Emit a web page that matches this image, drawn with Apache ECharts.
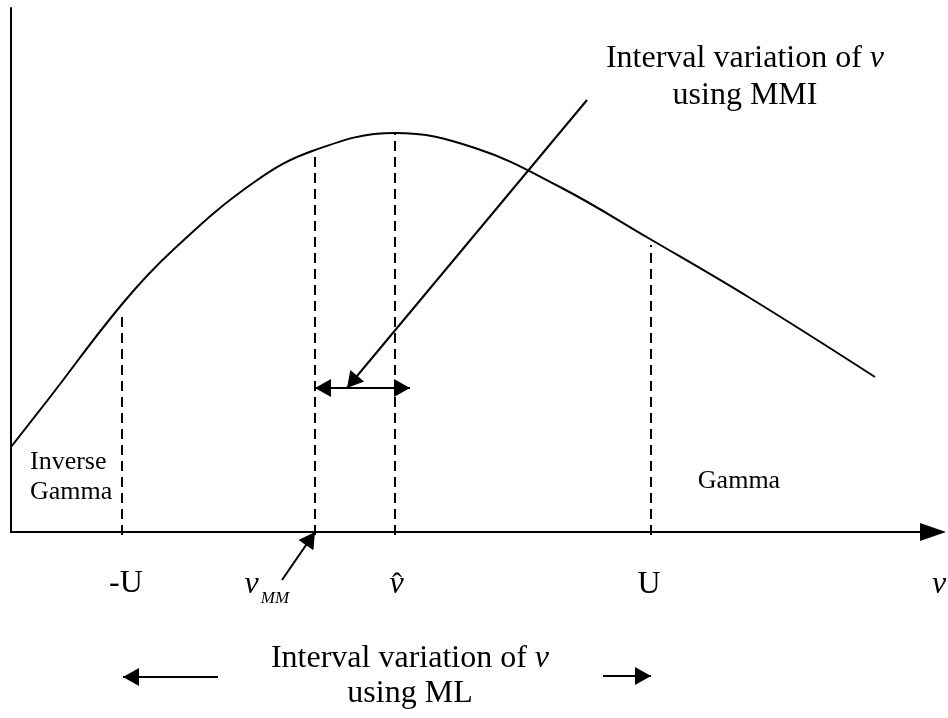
<!DOCTYPE html>
<html>
<head>
<meta charset="utf-8">
<script src="https://cdn.jsdelivr.net/npm/echarts@6.0.0/dist/echarts.min.js"></script>
<style>
    html, body { margin: 0; padding: 0; background: #fff; }
    #chart { width: 948px; height: 718px; }
</style>
</head>
<body>
<div id="chart"></div>
<script>
// diagram units: origin at the corner of the two axes, x to the right, y up
const curveX = [0, 36, 112, 162, 242, 304, 384, 464, 549, 639, 739, 864];
const curveY = [85, 131, 229, 282, 349, 382, 399, 384, 345, 293, 234, 155];

// dashed drop lines at -U, v_MM, v-hat and U
const dropX = [111, 304, 384, 640];
const dropTop = [217, 382, 399, 287];

// arrows: [x1, y1, x2, y2, head at start, head at end]
const arrows = [
    [576, 432, 336, 144, 0, 1],
    [304, 144, 399, 144, 1, 1],
    [271, -48, 304, 0, 0, 1],
    [207, -145, 112, -145, 0, 1],
    [592, -144, 640, -144, 0, 1],
];

// texts
const labelText = [
    "Interval variation of {i|ν}\nusing MMI",
    "Inverse\nGamma",
    "Gamma",
    "-U",
    "{i|ν}",
    "{s|MM}",
    "{i|ν}",
    "ˆ",
    "U",
    "{i|ν}",
    "Interval variation of {i|ν}\nusing ML",
];
const labelX = [734, 19, 728, 115, 240.5, 264, 385.5, 386, 638, 928, 399];
const labelY = [454.5, 55, 51, -52, -53, -67, -53, -53, -53, -53, -144.5];
const labelSize = [32, 26, 26, 32, 32, 17, 32, 30, 32, 32, 32];
const labelLine = [37, 30, 30, 32, 32, 17, 32, 30, 32, 32, 35];
const labelAlign = ["center", "left", "center", "center", "center", "center", "center", "center", "center", "center", "center"];

const serif = "'Liberation Serif', 'DejaVu Serif', serif";

const chart = echarts.init(document.getElementById("chart"), null, { renderer: "canvas" });

function headPoints(tip, from, len, width) {
    let dx = tip[0] - from[0];
    let dy = tip[1] - from[1];
    let d = Math.sqrt(dx * dx + dy * dy) || 1;
    dx /= d;
    dy /= d;
    let bx = tip[0] - dx * len;
    let by = tip[1] - dy * len;
    return [
        [tip[0], tip[1]],
        [bx - dy * width / 2, by + dx * width / 2],
        [bx + dy * width / 2, by - dx * width / 2],
    ];
}

const option = {
    animation: false,
    grid: { left: 11, right: 15, top: 8, bottom: 186 },
    xAxis: {
        type: "value",
        min: 0,
        max: 922,
        axisLine: {
            show: true,
            onZero: false,
            symbol: ["none", "triangle"],
            symbolSize: [18, 26],
            lineStyle: { color: "#000", width: 2 },
        },
        axisTick: { show: false },
        axisLabel: { show: false },
        splitLine: { show: false },
    },
    yAxis: {
        type: "value",
        min: 0,
        max: 524,
        axisLine: { show: true, onZero: false, lineStyle: { color: "#000", width: 2 } },
        axisTick: { show: false },
        axisLabel: { show: false },
        splitLine: { show: false },
    },
    series: [
        {
            type: "line",
            data: curveX.map((x, i) => [x, curveY[i]]),
            smooth: 0.4,
            symbol: "none",
            lineStyle: { color: "#000", width: 2 },
        },
        {
            type: "custom",
            data: dropX.map((x, i) => [x, dropTop[i]]),
            renderItem: (params, api) => {
                let p0 = api.coord([api.value(0), 0]);
                let p1 = api.coord([api.value(0), api.value(1)]);
                return {
                    type: "line",
                    shape: { x1: p0[0], y1: p0[1] + 3, x2: p1[0], y2: p1[1] },
                    style: { stroke: "#000", lineWidth: 2, lineDash: [10, 6] },
                };
            },
        },
        {
            type: "custom",
            data: arrows,
            renderItem: (params, api) => {
                let a = api.coord([api.value(0), api.value(1)]);
                let b = api.coord([api.value(2), api.value(3)]);
                let children = [{
                    type: "line",
                    shape: { x1: a[0], y1: a[1], x2: b[0], y2: b[1] },
                    style: { stroke: "#000", lineWidth: 2 },
                }];
                if (api.value(4)) {
                    children.push({ type: "polygon", shape: { points: headPoints(a, b, 16, 18) }, style: { fill: "#000" } });
                }
                if (api.value(5)) {
                    children.push({ type: "polygon", shape: { points: headPoints(b, a, 16, 18) }, style: { fill: "#000" } });
                }
                return { type: "group", children: children };
            },
        },
        {
            type: "custom",
            data: labelX.map((x, i) => [x, labelY[i]]),
            renderItem: (params, api) => {
                let i = params.dataIndex;
                let p = api.coord([api.value(0), api.value(1)]);
                return {
                    type: "text",
                    x: p[0],
                    y: p[1],
                    style: {
                        text: labelText[i],
                        fill: "#000",
                        fontFamily: serif,
                        fontSize: labelSize[i],
                        lineHeight: labelLine[i],
                        align: labelAlign[i],
                        verticalAlign: "middle",
                        rich: {
                            i: { fontStyle: "italic", fontFamily: serif, fontSize: labelSize[i], lineHeight: labelLine[i] },
                            s: { fontStyle: "italic", fontFamily: serif, fontSize: labelSize[i], lineHeight: labelLine[i] },
                        },
                    },
                };
            },
        },
    ],
};

chart.setOption(option);
</script>
</body>
</html>
